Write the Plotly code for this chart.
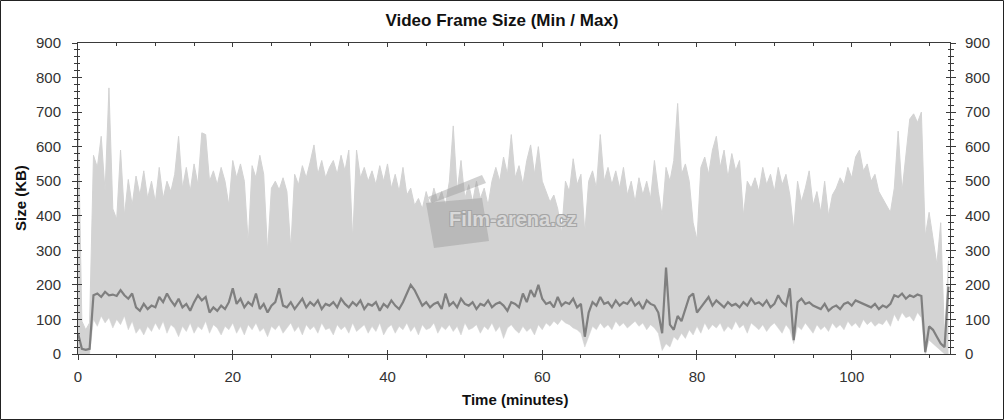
import plotly.graph_objects as go

# ---- data (0.5 minute sampling) ----
max_kb = [
    700, 95, 70, 90, 575, 540, 630, 470, 770, 420,
    390, 590, 400, 505, 430, 515, 460, 530, 450, 500,
    440, 540, 450, 500, 470, 520, 630, 480, 540, 470,
    550, 490, 640, 635, 500, 530, 490, 540, 500, 430,
    560, 510, 550, 500, 320, 545, 510, 575, 520, 295,
    480, 500, 475, 510, 470, 305, 520, 490, 545, 510,
    555, 605, 520, 560, 510, 540, 560, 520, 575, 530,
    590, 330, 590, 510, 540, 500, 530, 490, 545, 500,
    550, 480, 520, 470, 540, 460, 480, 430, 450, 420,
    470, 430, 480, 440, 470, 430, 500, 660, 470, 560,
    450, 490, 440, 500, 450, 480, 430, 500, 540, 500,
    570, 520, 635, 510, 545, 490, 560, 605, 520, 600,
    500, 470, 440, 460, 420, 350, 500, 470, 565, 490,
    520, 350, 500, 530, 480, 635, 500, 540, 490, 530,
    480, 540, 460, 500, 440, 510, 460, 500, 450, 560,
    470, 400, 540, 500, 560, 725, 520, 550, 500, 380,
    330, 540, 570, 520, 590, 630, 540, 590, 510, 580,
    530, 560, 400, 500, 480, 510, 470, 540, 490, 520,
    470, 540, 490, 520, 460, 360, 500, 440, 480, 530,
    430, 470, 410, 500, 400, 460, 480, 510, 490, 540,
    510, 570, 590, 530, 550, 500, 520, 470, 450, 430,
    410, 480, 645, 470, 585, 680, 695, 670, 700, 340,
    410, 330, 260, 380, 40, 270,
]

low_kb = [
    0, 0, 0, 0, 100, 80, 110, 90, 105, 75,
    100, 85, 110, 70, 95, 60, 75, 55, 80, 65,
    90, 70, 95, 60, 85, 75, 50, 80, 65, 90,
    60, 80, 70, 95, 60, 85, 75, 55, 80, 70,
    90, 60, 80, 55, 85, 70, 90, 65, 75, 50,
    80, 70, 85, 60, 75, 90, 65, 80, 55, 85,
    70, 80, 60, 90, 70, 75, 55, 85, 70, 80,
    60, 90, 65, 75, 85, 60, 80, 65, 90, 55,
    75, 85, 60, 80, 70, 90, 65, 80, 55, 85,
    70, 75, 90, 60, 80, 70, 85, 65, 80, 55,
    90, 70, 75, 85, 60, 80, 70, 90, 65, 80,
    45, 75, 85, 70, 60, 80, 65, 75, 55, 85,
    70, 90, 80, 95, 85, 100, 90, 85, 75, 70,
    60, 20, 50, 80, 70, 90, 75, 85, 70, 95,
    80, 90, 75, 85, 95, 80, 90, 70, 85, 75,
    60, 10, 30, 20, 50, 40, 60, 45, 70, 55,
    80, 60, 90, 70, 85, 75, 90, 65, 80, 70,
    95, 75, 85, 60, 90, 80, 70, 85, 65, 80,
    90, 75, 60, 85, 70, 30, 80, 70, 90, 75,
    60, 85, 70, 80, 65, 90, 75, 85, 70, 95,
    80, 90, 75, 100, 85, 95, 80, 90, 85, 100,
    80, 115, 95, 120, 105, 110, 95, 120, 105, 0,
    40, 30, 20, 10, 0, 0,
]

min_kb = [
    60, 15, 12, 15, 170, 175, 165, 180, 170, 172,
    168, 185, 170, 160, 175, 135, 125, 145, 130, 140,
    135, 165, 150, 175, 155, 140, 160, 135, 145, 125,
    150, 170, 155, 165, 120, 135, 125, 140, 130, 150,
    190, 145, 160, 135, 150, 140, 175, 130, 145, 120,
    140, 150, 190, 140, 135, 150, 130, 145, 160, 135,
    150, 140, 155, 130, 145, 140, 150, 135, 160, 145,
    135, 150, 140, 155, 130, 145, 140, 150, 125, 145,
    135, 155, 140, 130, 150, 175, 200, 185, 160, 140,
    150, 135, 145, 150, 130, 175, 140, 150, 135, 160,
    145, 140, 150, 130, 145, 140, 155, 135, 145, 150,
    140, 125, 150, 145, 135, 175, 150, 185, 165, 200,
    160, 145, 150, 135, 165, 140, 150, 145, 160, 135,
    145, 50, 120, 150, 140, 165, 145, 150, 135, 155,
    140, 150, 145, 160, 140, 150, 130, 155, 145, 140,
    120, 60, 250, 85, 70, 110, 95, 130, 165, 175,
    120, 135, 150, 165, 140, 155, 145, 135, 150, 140,
    145, 135, 150, 140, 160, 145, 150, 140, 155, 135,
    145, 170, 150, 140, 190, 40, 150, 160, 145, 150,
    140, 135, 130, 145, 125, 135, 140, 130, 145, 150,
    140, 155, 150, 145, 140, 135, 145, 130, 140, 135,
    145, 170, 165, 175, 160, 170, 165, 172, 168, 5,
    80, 70, 50, 30, 20, 195,
]

SAMPLE_STEP_MIN = 0.5
times = [i * SAMPLE_STEP_MIN for i in range(len(max_kb))]

x_ticks = [0, 20, 40, 60, 80, 100]
y_ticks = [0, 100, 200, 300, 400, 500, 600, 700, 800, 900]

X_RANGE = [0, 112.7]
Y_RANGE = [0, 900]

LIGHT = "#d3d3d3"
DARK = "#7f7f7f"
AXC = "#3a3a3a"
FONT = "Liberation Sans, Arial, sans-serif"

W, H = 1004, 420
ML, MR, MT, MB = 78, 54, 43, 66
PW, PH = W - ML - MR, H - MT - MB


def px(x, y):
    """pixel -> paper coords (for decoration only)."""
    return (x - ML) / PW, (H - MB - y) / PH


fig = go.Figure()
fig.add_trace(go.Scatter(x=times, y=low_kb, mode="lines",
                         line=dict(color=LIGHT, width=0.5),
                         showlegend=False, hoverinfo="skip"))
fig.add_trace(go.Scatter(x=times, y=max_kb, mode="lines",
                         line=dict(color=LIGHT, width=1),
                         fill="tonexty", fillcolor=LIGHT,
                         showlegend=False, name="Max"))
fig.add_trace(go.Scatter(x=times, y=min_kb, mode="lines",
                         line=dict(color=DARK, width=2.2),
                         showlegend=False, name="Min"))
# helper traces to anchor the extra tick axes
fig.add_trace(go.Scatter(x=[None], y=[None], xaxis="x", yaxis="y2", showlegend=False, hoverinfo="skip"))
fig.add_trace(go.Scatter(x=[None], y=[None], xaxis="x2", yaxis="y3", showlegend=False, hoverinfo="skip"))
fig.add_trace(go.Scatter(x=[None], y=[None], xaxis="x3", yaxis="y4", showlegend=False, hoverinfo="skip"))

tickfont = dict(family=FONT, size=15, color="#333333")

fig.update_layout(
    width=W, height=H,
    margin=dict(l=ML, r=MR, t=MT, b=MB, pad=0),
    paper_bgcolor="white", plot_bgcolor="white",
    title=dict(text="<b>Video Frame Size (Min / Max)</b>",
               x=0.5, xref="container", xanchor="center",
               y=1 - 20 / H, yref="container", yanchor="middle",
               font=dict(family=FONT, size=17, color="#111111")),
    xaxis=dict(range=X_RANGE, tickvals=x_ticks, ticks="outside", ticklen=5,
               tickcolor=AXC, showline=True, linecolor=AXC, linewidth=1,
               mirror=True, showgrid=False, zeroline=False, tickfont=tickfont,
               ticklabelstandoff=4,
               minor=dict(dtick=5, tick0=0, ticks="outside", ticklen=3, tickcolor=AXC, showgrid=False)),
    xaxis2=dict(range=X_RANGE, overlaying="x", side="top", anchor="y", tickvals=x_ticks,
                ticks="inside", ticklen=4, tickcolor=AXC, showticklabels=False,
                showline=False, showgrid=False, zeroline=False,
                minor=dict(dtick=5, tick0=0, ticks="inside", ticklen=3, tickcolor=AXC, showgrid=False)),
    xaxis3=dict(range=X_RANGE, overlaying="x", side="bottom", anchor="y", tickvals=x_ticks,
                ticks="inside", ticklen=4, tickcolor=AXC, showticklabels=False,
                showline=False, showgrid=False, zeroline=False),
    yaxis=dict(range=Y_RANGE, tickvals=y_ticks, ticks="outside", ticklen=5,
               tickcolor=AXC, showline=True, linecolor=AXC, linewidth=1,
               showgrid=False, zeroline=False, tickfont=tickfont,
               ticklabelstandoff=8,
               minor=dict(dtick=20, tick0=0, ticks="outside", ticklen=3, tickcolor=AXC, showgrid=False)),
    yaxis2=dict(range=Y_RANGE, overlaying="y", side="right", anchor="x", tickvals=y_ticks,
                ticks="outside", ticklen=5, tickcolor=AXC, showline=True, linecolor=AXC,
                linewidth=1, showgrid=False, zeroline=False, tickfont=tickfont,
                ticklabelstandoff=6,
                minor=dict(dtick=20, tick0=0, ticks="outside", ticklen=3, tickcolor=AXC, showgrid=False)),
    yaxis3=dict(range=Y_RANGE, overlaying="y", side="left", anchor="x2", tickvals=y_ticks,
                ticks="inside", ticklen=4, tickcolor=AXC, showticklabels=False,
                showline=False, showgrid=False, zeroline=False,
                minor=dict(dtick=20, tick0=0, ticks="inside", ticklen=2, tickcolor=AXC, showgrid=False)),
    yaxis4=dict(range=Y_RANGE, overlaying="y", side="right", anchor="x3", tickvals=y_ticks,
                ticks="inside", ticklen=4, tickcolor=AXC, showticklabels=False,
                showline=False, showgrid=False, zeroline=False,
                minor=dict(dtick=20, tick0=0, ticks="inside", ticklen=2, tickcolor=AXC, showgrid=False)),
)

# axis titles
ax_x, ax_y = px(515, 399)
fig.add_annotation(text="<b>Time (minutes)</b>", xref="paper", yref="paper",
                   x=ax_x, y=ax_y, showarrow=False, xanchor="center", yanchor="middle",
                   font=dict(family=FONT, size=15, color="#111111"))
ay_x, ay_y = px(20, 198)
fig.add_annotation(text="<b>Size (KB)</b>", xref="paper", yref="paper",
                   x=ay_x, y=ay_y, showarrow=False, textangle=-90,
                   xanchor="center", yanchor="middle",
                   font=dict(family=FONT, size=15, color="#111111"))

# watermark (clapperboard + text)
def poly(points):
    p = [px(x, y) for x, y in points]
    return "M " + " L ".join(f"{a:.5f},{b:.5f}" for a, b in p) + " Z"

WM = "#9a9a9a"
fig.add_shape(type="path", xref="paper", yref="paper", layer="above",
              path=poly([(426, 203), (482, 198), (489, 241), (434, 248)]),
              fillcolor=WM, line=dict(width=0), opacity=0.45)
fig.add_shape(type="path", xref="paper", yref="paper", layer="above",
              path=poly([(428, 197), (482, 175), (486, 183), (432, 203)]),
              fillcolor=WM, line=dict(width=0), opacity=0.45)
wx, wy = px(513, 219)
fig.add_annotation(text="<b>Film-arena.cz</b>", xref="paper", yref="paper",
                   x=wx, y=wy, showarrow=False, xanchor="center", yanchor="middle",
                   font=dict(family=FONT, size=20, color="#d8d8d8",
                             shadow="1px 1px 0 #a6a6a6, -1px -1px 0 #a6a6a6, 1px -1px 0 #a6a6a6, -1px 1px 0 #a6a6a6"))

# outer image border
bx0, by0 = px(0.5, 419.5)
bx1, by1 = px(1003.5, 0.5)
fig.add_shape(type="rect", xref="paper", yref="paper", x0=bx0, y0=by0, x1=bx1, y1=by1,
              line=dict(color="#222222", width=1), fillcolor="rgba(0,0,0,0)", layer="above")

fig.write_html("out.html", config={"displayModeBar": False},
               post_script="document.body.style.margin='0px';")
